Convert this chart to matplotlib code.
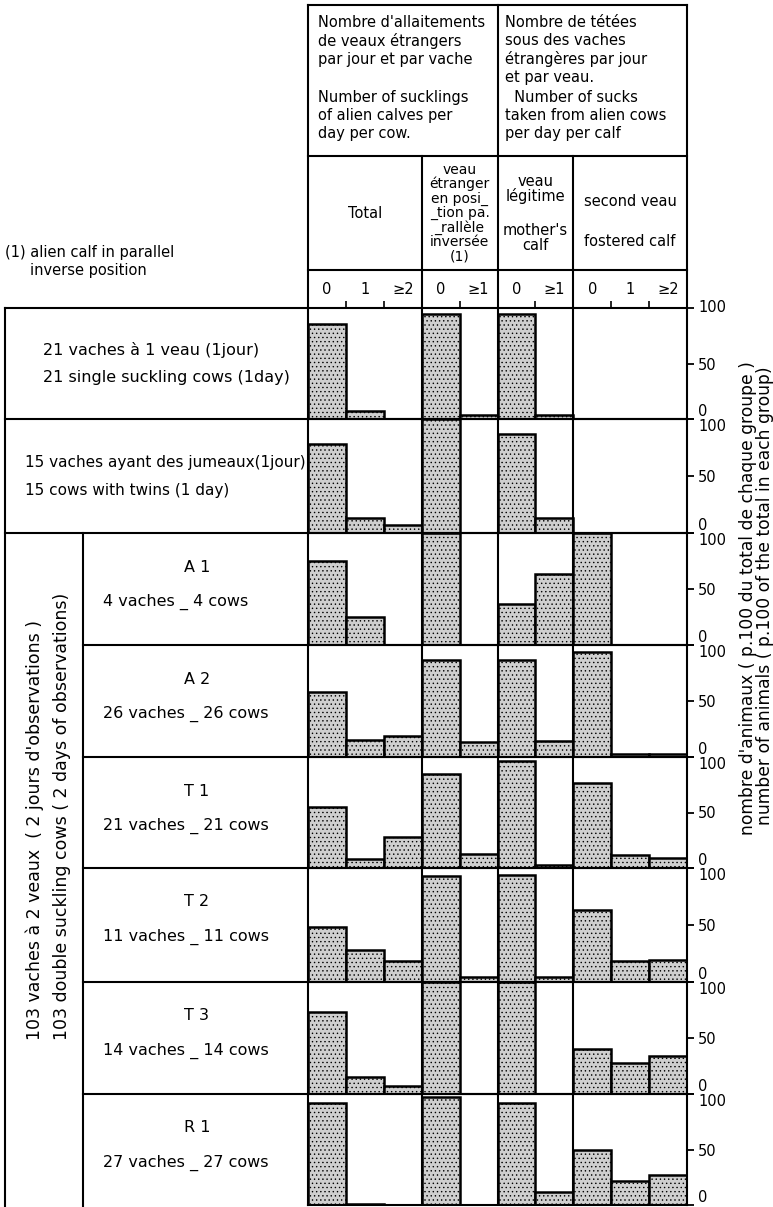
import numpy as np
import matplotlib
matplotlib.use("Agg")
import matplotlib.pyplot as plt

W, H = 773, 1207

# percentages of animals in each group (0, 1, >=2 ...)
total    = [[86, 7, 0], [78, 13, 7], [75, 25, 0], [58, 15, 19], [55, 8, 28], [48, 28, 18], [73, 15, 7], [92, 1, 0]]
etranger = [[95, 4], [100, 0], [100, 0], [87, 13], [85, 13], [93, 4], [100, 0], [97, 0]]
legitime = [[95, 4], [87, 13], [37, 63], [87, 14], [96, 3], [94, 4], [100, 0], [92, 12]]
second   = [[0, 0, 0], [0, 0, 0], [100, 0, 0], [94, 3, 3], [77, 12, 9], [63, 18, 19], [40, 28, 34], [50, 22, 27]]

bar_labels = ["0", "1", "≥2", "0", "≥1", "0", "≥1", "0", "1", "≥2"]

row_fr = ["21 vaches à 1 veau (1jour)", "15 vaches ayant des jumeaux(1jour)"]
row_en = ["21 single suckling cows (1day)", "15 cows with twins (1 day)"]
sub_names = ["A 1", "A 2", "T 1", "T 2", "T 3", "R 1"]
sub_cows = ["4 vaches _ 4 cows", "26 vaches _ 26 cows", "21 vaches _ 21 cows",
            "11 vaches _ 11 cows", "14 vaches _ 14 cows", "27 vaches _ 27 cows"]

plt.rcParams['font.family'] = ['DejaVu Sans']
plt.rcParams['hatch.linewidth'] = 0.5

LW = 1.5
FS = 10.5
FR = 11.5  # row labels
row_edges = [308, 419, 533, 645, 757, 868, 982, 1094, 1205]
x0, x1 = 308, 687
unit = (x1 - x0) / 10
xa, xb, xc = x0 + 3 * unit, x0 + 5 * unit, x0 + 7 * unit

fig = plt.figure(figsize=(W / 100, H / 100), dpi=100)
bg = fig.add_axes([0, 0, 1, 1])
bg.set_xlim(0, W)
bg.set_ylim(H, 0)
bg.axis('off')


def hline(y, xa, xb):
    bg.plot([xa, xb], [y, y], color='k', lw=LW, solid_capstyle='projecting')


def vline(x, ya, yb):
    bg.plot([x, x], [ya, yb], color='k', lw=LW, solid_capstyle='projecting')


# header frame
hline(5, x0, x1)
hline(156, x0, x1)
hline(270, x0, x1)
vline(x0, 5, 308)
vline(x1, 5, 308)
vline(xb, 5, 308)
vline(xa, 156, 308)
vline(xc, 156, 308)

# left label frame
hline(308, 5, x0)
hline(419, 5, x0)
hline(533, 5, x0)
for y in row_edges[3:8]:
    hline(y, 83, x0)
vline(5, 308, 1207)
vline(83, 533, 1207)

# header text
bg.text(318, 15, "Nombre d'allaitements\nde veaux étrangers\npar jour et par vache",
        fontsize=FS, va='top', ha='left', linespacing=1.25)
bg.text(318, 90, "Number of sucklings\nof alien calves per\nday per cow.",
        fontsize=FS, va='top', ha='left', linespacing=1.25)
bg.text(505, 15, "Nombre de tétées\nsous des vaches\nétrangères par jour\net par veau.",
        fontsize=FS, va='top', ha='left', linespacing=1.25)
bg.text(505, 90, "  Number of sucks\ntaken from alien cows\nper day per calf",
        fontsize=FS, va='top', ha='left', linespacing=1.25)

bg.text((x0 + xa) / 2, 213, "Total", fontsize=FS, ha='center', va='center')
bg.text((xa + xb) / 2, 213, "veau\nétranger\nen posi_\n_tion pa.\n_rallèle\ninversée\n(1)",
        fontsize=10, ha='center', va='center', linespacing=1.02)
bg.text((xb + xc) / 2, 189, "veau\nlégitime", fontsize=FS, ha='center', va='center', linespacing=1.0)
bg.text((xb + xc) / 2, 238, "mother's\ncalf", fontsize=FS, ha='center', va='center', linespacing=1.0)
bg.text((xc + x1) / 2, 202, "second veau", fontsize=FS, ha='center', va='center')
bg.text((xc + x1) / 2, 242, "fostered calf", fontsize=FS, ha='center', va='center')

bg.text(5, 253, "(1) alien calf in parallel", fontsize=FS, ha='left', va='center')
bg.text(30, 271, "inverse position", fontsize=FS, ha='left', va='center')

# row labels
for i in range(2):
    xl = 43 if i == 0 else 25
    fs = FR if i == 0 else 11
    ym = (row_edges[i] + row_edges[i + 1]) / 2
    bg.text(xl, ym - 13, row_fr[i], fontsize=fs, ha='left', va='center')
    bg.text(xl, ym + 14, row_en[i], fontsize=fs, ha='left', va='center')
for i in range(6):
    top = row_edges[i + 2]
    bg.text(197, top + 34, sub_names[i], fontsize=FR, ha='center', va='center')
    bg.text(103, top + 69, sub_cows[i], fontsize=FR, ha='left', va='center')

bg.text(35, 1040, "103 vaches à 2 veaux  ( 2 jours d'observations )", fontsize=12.5,
        rotation=90, ha='center', va='bottom')
bg.text(62, 1040, "103 double suckling cows ( 2 days of observations)", fontsize=12.5,
        rotation=90, ha='center', va='bottom')

bg.text(748, 598, "nombre d'animaux ( p.100 du total de chaque groupe )", fontsize=12.3,
        rotation=90, ha='center', va='center')
bg.text(765, 596, "number of animals ( p.100 of the total in each group)", fontsize=12.3,
        rotation=90, ha='center', va='center')

# bar panels
xs = np.arange(10) + 0.5
for i in range(8):
    top, bot = row_edges[i], row_edges[i + 1]
    ax = fig.add_axes([x0 / W, 1 - bot / H, (x1 - x0) / W, (bot - top) / H])
    ax.set_facecolor('none')
    vals = np.array(total[i] + etranger[i] + legitime[i] + second[i], dtype=float)
    keep = vals > 0
    ax.bar(xs[keep], vals[keep], width=1.0, color='#cfcfcf', edgecolor='black',
           linewidth=1.8, hatch='....', zorder=2)
    for xv in (3, 5, 7):
        ax.axvline(xv, color='k', lw=LW, zorder=3)
    ax.set_xlim(0, 10)
    ax.set_ylim(0, 100)
    for s in ax.spines.values():
        s.set_linewidth(LW)
    ax.yaxis.tick_right()
    ax.set_yticks([0, 50, 100])
    ax.set_yticklabels(['0', '50', '100'], fontsize=FS)
    ax.tick_params(axis='y', length=5, width=1.3, pad=3)
    lab = ax.get_yticklabels()
    lab[0].set_va('bottom')
    lab[2].set_va('center' if i == 0 else 'top')
    if i == 0:
        ax.xaxis.tick_top()
        ax.set_xticks([1, 2, 4, 6, 8, 9])
        ax.set_xticklabels([])
        ax.set_xticks(xs, minor=True)
        ax.set_xticklabels(bar_labels, minor=True, fontsize=FS)
        ax.tick_params(axis='x', which='major', length=5, width=1.2, direction='out')
        ax.tick_params(axis='x', which='minor', length=0, pad=8)
    else:
        ax.set_xticks([])

fig.savefig('out.png', dpi=100)
